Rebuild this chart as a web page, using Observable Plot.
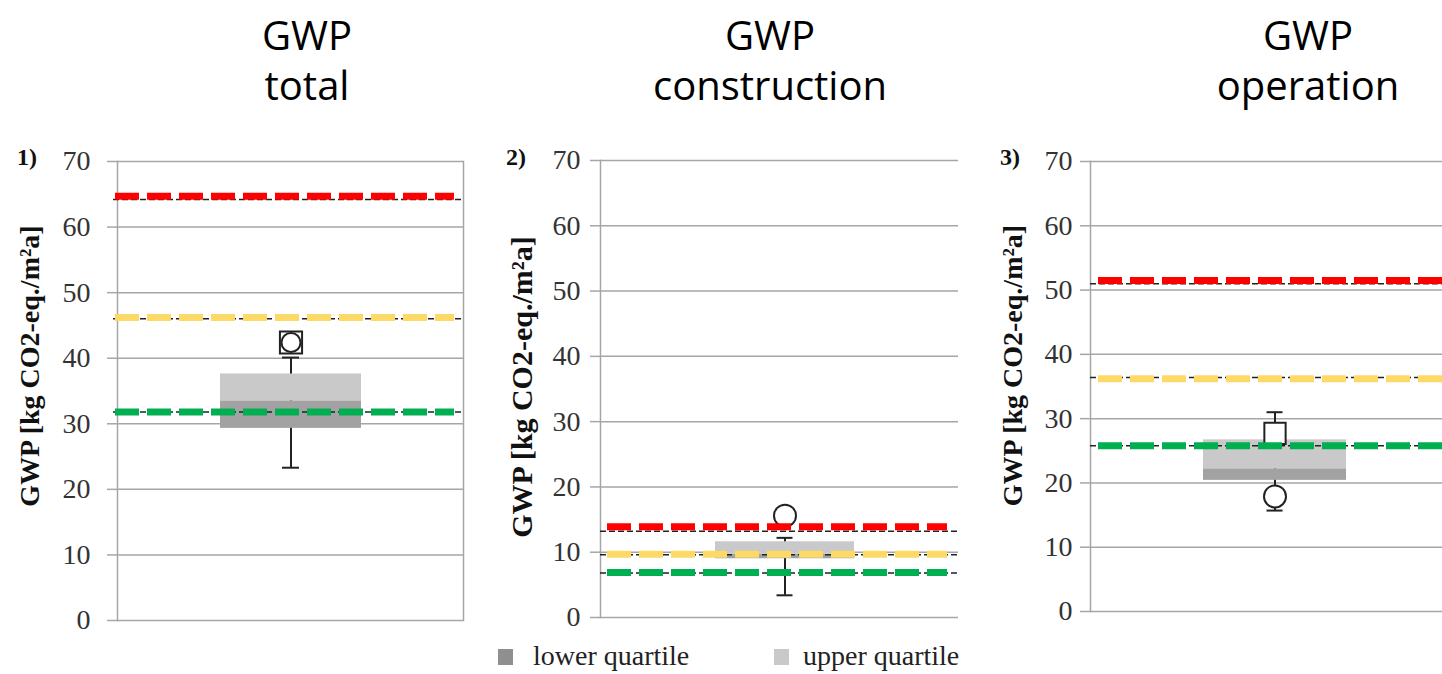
<!DOCTYPE html>
<html><head><meta charset="utf-8">
<script src="https://cdn.jsdelivr.net/npm/d3@7"></script>
<script src="https://cdn.jsdelivr.net/npm/@observablehq/plot@0.6"></script>
<style>
html,body{margin:0;padding:0;background:#fff;}
body{width:1442px;height:674px;overflow:hidden;position:relative;}
.title{position:absolute;top:10px;width:400px;font-family:"Open Sans";font-size:40px;line-height:50px;text-align:center;color:#000;}
.num{position:absolute;top:145px;font-family:"Liberation Serif";font-weight:bold;font-size:24px;line-height:24px;color:#111;}
.panel{position:absolute;top:140px;}
.panel svg{max-width:none !important;}
.sw{position:absolute;width:15px;height:16px;}
.lt{position:absolute;top:642px;font-family:"Liberation Serif";font-size:28px;line-height:28px;color:#222;white-space:nowrap;}
</style></head><body>
<script>
// ---- data ----
const panels = ["total", "construction", "operation"];
const titleLines = [["GWP", "total"], ["GWP", "construction"], ["GWP", "operation"]];
const panelNumbers = ["1)", "2)", "3)"];
const yLabel = "GWP [kg CO2-eq./m²a]";
const yTicks = [0, 10, 20, 30, 40, 50, 60, 70];
const legendLabels = ["lower quartile", "upper quartile"];

const boxLow = [29.3, 9.0, 20.4];      // bottom of lower quartile box
const boxMedian = [33.5, 9.7, 22.2];
const boxHigh = [37.6, 11.6, 26.7];    // top of upper quartile box
const whiskerLow = [23.3, 3.4, 15.7];
const whiskerHigh = [40.1, 12.2, 31.0];
const squareMarker = [42.4, null, 27.7];
const circleMarker = [42.4, 15.6, 17.9];

const redLine = [64.7, 13.9, 51.5];
const yellowLine = [46.2, 9.7, 36.2];
const greenLine = [31.8, 6.9, 25.8];
const refLines = [[64.2, 46.0, 31.8], [13.2, 9.6, 6.8], [51.0, 36.4, 25.8]];

// ---- layout (styles only) ----
const layout = [
  {left: 0, width: 470, mL: 117, mR: 7, mT: 21, mB: 20, pad: 0.421, align: 0.5, tickPad: 17, lDx: -87, lDy: -25, lFs: 28, cap: 62, cL: -2, cR: 9, rL: -4, rR: 2, sq: 12.5, ci: 9.5, rightFrame: true, titleX: 307, numX: 17},
  {left: 490, width: 470, mL: 110, mR: 2, mT: 20, mB: 23, pad: 0.438, align: 0.528, tickPad: 10, lDx: -78, lDy: -2, lFs: 30, cap: 61.5, cL: 7, cR: 11, rL: 0, rR: 0, sq: 12.5, ci: 11, rightFrame: false, titleX: 770, numX: 506},
  {left: 980, width: 480, mL: 110, mR: 0, mT: 21, mB: 29, pad: 0.44, align: 0.5, tickPad: 8, lDx: -77, lDy: -21, lFs: 28, cap: 63.5, cL: 8, cR: 6, rL: 0, rR: 0, sq: 12, ci: 11, rightFrame: false, titleX: 1308, numX: 1000}
];

const grey = "#a6a6a6";
const ink = "#222";

function makePanel(i) {
  const L = layout[i];
  const k = panels[i];
  const lowerBox = [{k, y1: boxLow[i], y2: boxMedian[i]}];
  const upperBox = [{k, y1: boxMedian[i], y2: boxHigh[i]}];
  const whisker = [{k, y1: whiskerLow[i], y2: whiskerHigh[i]}];
  const caps = [{k, v: whiskerLow[i]}, {k, v: whiskerHigh[i]}];
  const squares = squareMarker[i] == null ? [] : [{k, v: squareMarker[i]}];
  const circles = circleMarker[i] == null ? [] : [{k, v: circleMarker[i]}];
  const refs = refLines[i].map(v => ({v}));
  const coloured = (v, color) => Plot.ruleY([{v}], {y: "v", stroke: color, strokeWidth: 7, strokeDasharray: "24,8", insetLeft: L.cL, insetRight: L.cR});

  const marks = [
    Plot.gridY(yTicks, {stroke: grey, strokeOpacity: 1, strokeWidth: 1.5}),
    Plot.axisY(yTicks, {tickSize: 10, tickPadding: L.tickPad, stroke: grey, strokeWidth: 1.5, fill: "#333", fontSize: 28, fontFamily: "Liberation Serif", label: null}),
    Plot.frame({anchor: "left", stroke: grey, strokeWidth: 1.5}),
    L.rightFrame ? Plot.frame({anchor: "right", stroke: grey, strokeWidth: 1.5}) : null,
    Plot.text([yLabel], {frameAnchor: "left", textAnchor: "middle", rotate: -90, dx: L.lDx, dy: L.lDy, fontSize: L.lFs, fontWeight: "bold", fontFamily: "Liberation Serif", fill: "#111"}),
    Plot.ruleX(whisker, {x: "k", y1: "y1", y2: "y2", stroke: ink, strokeWidth: 2}),
    Plot.tickY(caps, {x: "k", y: "v", stroke: ink, strokeWidth: 2, insetLeft: L.cap, insetRight: L.cap}),
    Plot.barY(lowerBox, {x: "k", y1: "y1", y2: "y2", fill: "#a2a2a2"}),
    Plot.barY(upperBox, {x: "k", y1: "y1", y2: "y2", fill: "#c9c9c9"}),
    Plot.dot(squares, {x: "k", y: "v", symbol: "square", r: L.sq, fill: "white", stroke: ink, strokeWidth: 2}),
    Plot.dot(circles, {x: "k", y: "v", r: L.ci, fill: "white", stroke: ink, strokeWidth: 2}),
    Plot.ruleY(refs, {y: "v", stroke: ink, strokeWidth: 1.5, strokeDasharray: "6,3", insetLeft: L.rL, insetRight: L.rR}),
    coloured(redLine[i], "#ff0000"),
    coloured(yellowLine[i], "#ffd966"),
    coloured(greenLine[i], "#00b050")
  ].filter(Boolean);

  const svg = Plot.plot({
    width: L.width,
    height: 500,
    marginLeft: L.mL, marginRight: L.mR, marginTop: L.mT, marginBottom: L.mB,
    style: {background: "transparent", overflow: "visible"},
    x: {type: "band", domain: [k], padding: L.pad, align: L.align, axis: null},
    y: {domain: [0, 70], axis: null},
    marks
  });
  svg.style.maxWidth = "none";
  svg.style.width = L.width + "px";
  svg.style.height = "500px";
  const wrap = document.createElement("div");
  wrap.className = "panel";
  wrap.style.left = L.left + "px";
  wrap.style.width = L.width + "px";
  wrap.style.height = "500px";
  wrap.appendChild(svg);
  document.body.appendChild(wrap);

  const t = document.createElement("div");
  t.className = "title";
  t.style.left = (L.titleX - 200) + "px";
  t.innerHTML = titleLines[i].join("<br>");
  document.body.appendChild(t);

  const n = document.createElement("div");
  n.className = "num";
  n.style.left = L.numX + "px";
  n.textContent = panelNumbers[i];
  document.body.appendChild(n);
}

panels.forEach((_, i) => makePanel(i));

// legend
const legendPos = [{sw: 498, tx: 533, c: "#8f8f8f"}, {sw: 774, tx: 803, c: "#c9c9c9"}];
legendLabels.forEach((lab, i) => {
  const p = legendPos[i];
  const s = document.createElement("div");
  s.className = "sw";
  s.style.left = p.sw + "px"; s.style.top = "649px"; s.style.background = p.c;
  document.body.appendChild(s);
  const t = document.createElement("div");
  t.className = "lt";
  t.style.left = p.tx + "px";
  t.textContent = lab;
  document.body.appendChild(t);
});
</script>
</body></html>
